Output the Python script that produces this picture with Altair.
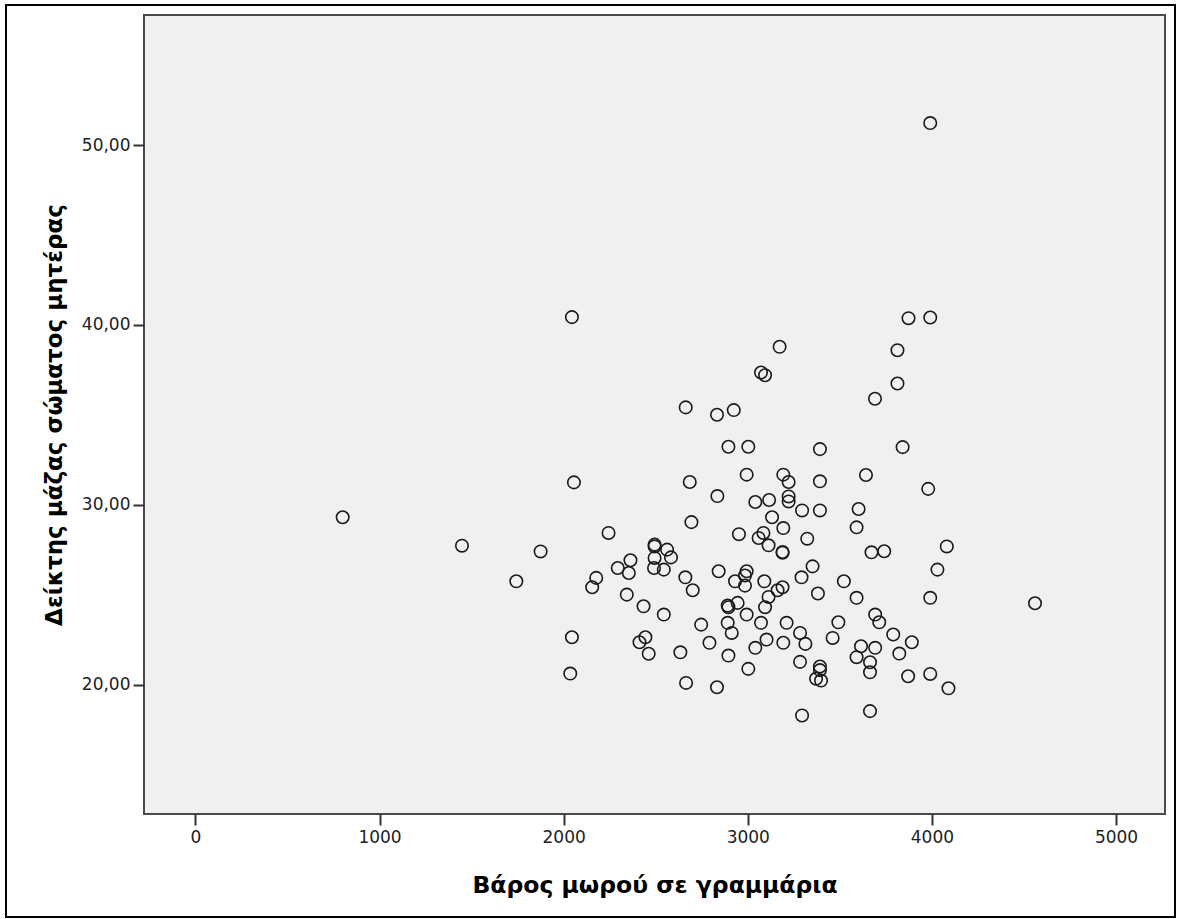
import altair as alt
import pandas as pd

# Birth weight (g) and mother's BMI
bw = [800, 1448, 1875, 1743, 2045, 2056, 2045, 2036, 2155, 2177,
      2244, 2294, 2343, 2354, 2363, 2412, 2434, 2444, 2462, 2491,
      2494, 2494, 2494, 2544, 2544, 2562, 2583, 2634, 2661, 2663,
      2665, 2685, 2694, 2701, 2747, 2792, 2833, 2833, 2835, 2842,
      2891, 2895, 2891, 2895, 2895, 2913, 2924, 2931, 2945, 2952,
      2985, 2985, 2994, 2994, 2994, 3003, 3003, 3041, 3041, 3059,
      3072, 3072, 3085, 3090, 3094, 3094, 3102, 3113, 3113, 3116,
      3132, 3162, 3173, 3189, 3189, 3189, 3193, 3193, 3193, 3211,
      3222, 3222, 3222, 3284, 3284, 3292, 3295, 3295, 3313, 3323,
      3352, 3371, 3381, 3392, 3392, 3392, 3392, 3392, 3398, 3461,
      3492, 3522, 3591, 3591, 3591, 3602, 3615, 3642, 3664, 3664,
      3664, 3672, 3691, 3692, 3692, 3714, 3741, 3790, 3813, 3813,
      3823, 3841, 3871, 3873, 3891, 3980, 3991, 3991, 3991, 3991,
      4030, 4081, 4090, 4560]
bmi = [29.30, 27.72, 27.40, 25.74, 40.43, 31.24, 22.63, 20.61, 25.41, 25.93,
       28.43, 26.48, 25.00, 26.20, 26.91, 22.35, 24.35, 22.63, 21.71, 26.48,
       27.04, 27.78, 27.68, 26.39, 23.89, 27.50, 27.07, 21.79, 25.96, 35.41,
       20.09, 31.26, 29.03, 25.24, 23.33, 22.32, 35.00, 19.85, 30.48, 26.30,
       24.39, 24.30, 23.43, 33.22, 21.61, 22.87, 35.26, 25.74, 24.54, 28.36,
       26.06, 25.50, 26.30, 31.67, 23.89, 33.22, 20.87, 30.15, 22.04, 28.15,
       37.35, 23.43, 28.43, 25.74, 37.20, 24.30, 22.50, 27.74, 24.87, 30.26,
       29.30, 25.24, 38.78, 25.41, 27.37, 27.33, 31.67, 28.70, 22.32, 23.43,
       31.26, 30.46, 30.18, 22.87, 21.26, 25.96, 29.68, 18.28, 22.26, 28.11,
       26.57, 20.32, 25.06, 33.09, 31.30, 29.68, 21.00, 20.80, 20.22, 22.59,
       23.46, 25.74, 28.74, 24.82, 21.52, 29.76, 22.13, 31.65, 21.24, 20.68,
       18.52, 27.35, 35.89, 23.89, 22.04, 23.46, 27.41, 22.78, 38.59, 36.74,
       21.72, 33.20, 20.46, 40.37, 22.35, 30.88, 51.22, 40.41, 24.82, 20.59,
       26.39, 27.68, 19.79, 24.52]

x_ticks = [0, 1000, 2000, 3000, 4000, 5000]
y_ticks = [20, 30, 40, 50]
x_title = "Βάρος μωρού σε γραμμάρια"
y_title = "Δείκτης μάζας σώματος μητέρας"

df = pd.DataFrame({"bw": bw, "bmi": bmi})

FONT = "DejaVu Sans"
PLOT_W, PLOT_H = 1021, 799
LEFT, TOP = 144, 15

points = alt.Chart(df).mark_point(
    shape="circle", filled=False, size=155, strokeWidth=1.6,
    color="#1a1a1a", opacity=1
).encode(
    x=alt.X("bw:Q",
            scale=alt.Scale(domain=[-279, 5266], nice=False, zero=False),
            axis=alt.Axis(values=x_ticks, format="d", title=x_title,
                          domain=False, grid=False, tickSize=11, tickWidth=2,
                          tickColor="#333333", labelFont=FONT, labelFontSize=17,
                          labelColor="#222222", labelPadding=4,
                          titleFont=FONT, titleFontSize=23.5, titleFontWeight="bold",
                          titleColor="#000000", titleY=78,
                          titleBaseline="alphabetic")),
    y=alt.Y("bmi:Q",
            scale=alt.Scale(domain=[12.80, 57.23], nice=False, zero=False),
            axis=alt.Axis(values=y_ticks,
                          labelExpr="replace(format(datum.value, '.2f'), '.', ',')",
                          title=y_title, domain=False, grid=False, tickSize=11,
                          tickWidth=2, tickColor="#333333", labelFont=FONT,
                          labelFontSize=17, labelColor="#222222", labelPadding=3,
                          titleFont=FONT, titleFontSize=23, titleFontWeight="bold",
                          titleColor="#000000", titleX=-83, titleY=PLOT_H / 2,
                          titleBaseline="alphabetic", titleAngle=270)),
)

border = alt.Chart(pd.DataFrame({"k": [0]})).mark_rect(
    fillOpacity=0, stroke="#000000", strokeWidth=2, clip=False
).encode(
    x=alt.value(6 - LEFT), x2=alt.value(1175 - LEFT),
    y=alt.value(5 - TOP), y2=alt.value(917 - TOP),
)

chart = alt.layer(border, points).properties(
    width=PLOT_W, height=PLOT_H,
    autosize=alt.AutoSizeParams(type="none"),
    padding={"left": LEFT, "top": TOP, "right": 1177 - LEFT - PLOT_W, "bottom": 919 - TOP - PLOT_H},
    background="#ffffff",
).configure_view(
    fill="#f0f0f0", stroke="#4a4a4a", strokeWidth=2
)

chart.save("out.html", embed_options={"renderer": "svg", "actions": False})
